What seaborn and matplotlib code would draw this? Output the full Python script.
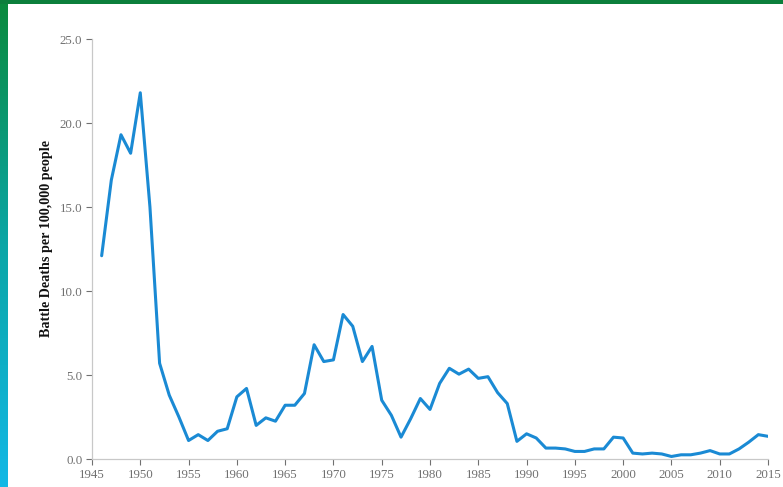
import numpy as np
import pandas as pd
import seaborn as sns
import matplotlib
matplotlib.use("Agg")
import matplotlib.pyplot as plt
from matplotlib.patches import Rectangle
from matplotlib.colors import LinearSegmentedColormap

years = list(range(1946, 2016))
deaths = [12.1, 16.6, 19.3, 18.2, 21.8, 15.0, 5.7, 3.8, 2.5, 1.1,
          1.45, 1.1, 1.65, 1.8, 3.7, 4.2, 2.0, 2.45, 2.25, 3.2,
          3.2, 3.9, 6.8, 5.8, 5.9, 8.6, 7.9, 5.8, 6.7, 3.5,
          2.6, 1.3, 2.4, 3.6, 2.95, 4.5, 5.4, 5.05, 5.35, 4.8,
          4.9, 3.95, 3.3, 1.05, 1.5, 1.25, 0.65, 0.65, 0.6, 0.45,
          0.45, 0.6, 0.6, 1.3, 1.25, 0.35, 0.3, 0.35, 0.3, 0.15,
          0.25, 0.25, 0.35, 0.5, 0.3, 0.3, 0.6, 1.0, 1.45, 1.35]
x_ticks = list(range(1945, 2016, 5))
y_ticks = [0.0, 5.0, 10.0, 15.0, 20.0, 25.0]
y_label = "Battle Deaths per 100,000 people"

df = pd.DataFrame({"year": years, "deaths": deaths})

sns.set_theme(style="white")
plt.rcParams['font.family'] = ['Liberation Serif', 'DejaVu Serif']

fig = plt.figure(figsize=(7.83, 4.87), dpi=100)
fig.patch.set_facecolor("white")

# decorative frame: green top bar, green->cyan gradient left bar
fig.patches.append(Rectangle((0, 1 - 4/487), 1, 4/487, transform=fig.transFigure,
                             facecolor="#0c7f3c", edgecolor="none", zorder=10))
gax = fig.add_axes([0, 0, 8/783, 1])
grad = np.linspace(0, 1, 256).reshape(-1, 1)
cmap = LinearSegmentedColormap.from_list("g", ["#0a8a3c", "#0aa6a6", "#12b8e6"])
gax.imshow(grad, aspect="auto", cmap=cmap, extent=[0, 1, 0, 1])
gax.set_axis_off()

ax = fig.add_axes([92/783, 1 - 459/487, (768 - 92)/783, (459 - 39)/487])
sns.lineplot(data=df, x="year", y="deaths", ax=ax, color="#1a8ad4", linewidth=2.2)

ax.set_xlim(1945, 2015)
ax.set_ylim(0, 25)
ax.set_xticks(x_ticks)
ax.set_xticklabels([str(t) for t in x_ticks])
ax.set_yticks(y_ticks)
ax.set_yticklabels([f"{t:.1f}" for t in y_ticks])
ax.set_xlabel("")
ax.set_ylabel(y_label, fontsize=10.2, fontweight="bold", color="#111111")
ax.yaxis.set_label_coords(-0.057, 0.524)
ax.tick_params(axis="both", labelsize=9.3, colors="#707070", length=4, width=0.8,
               direction="out", bottom=True, left=True, pad=3)
for side in ["top", "right"]:
    ax.spines[side].set_visible(False)
for side in ["left", "bottom"]:
    ax.spines[side].set_color("#c8c8c8")
    ax.spines[side].set_linewidth(0.9)
ax.set_facecolor("white")

fig.savefig("out.png", dpi=100)
